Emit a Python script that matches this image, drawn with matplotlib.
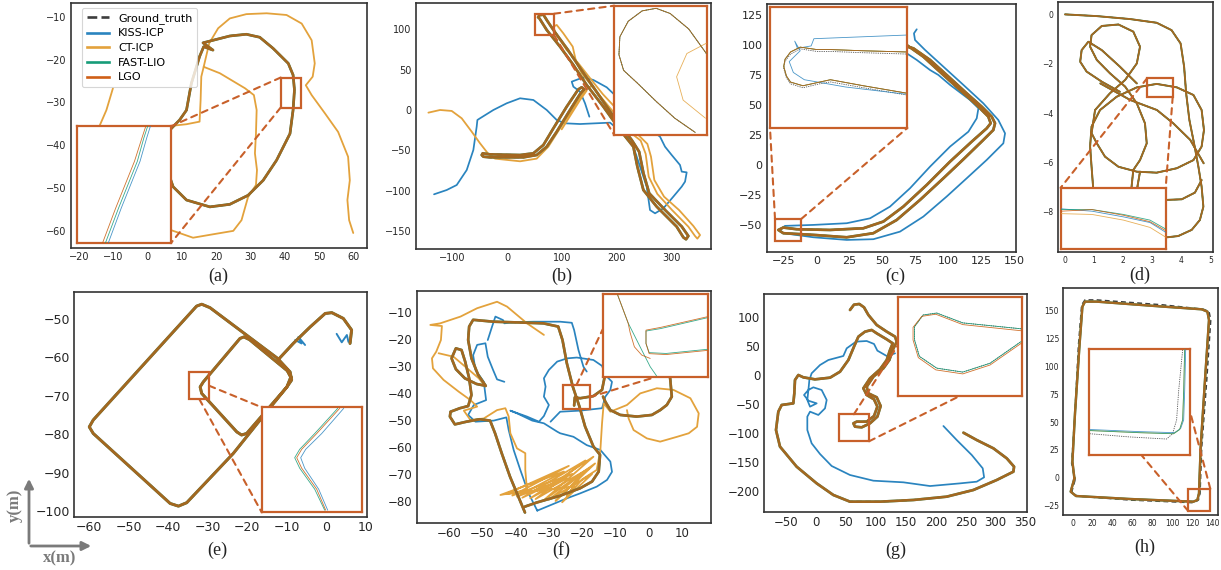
import numpy as np
import matplotlib
matplotlib.use("Agg")
import matplotlib.pyplot as plt
from matplotlib.patches import Rectangle, ConnectionPatch, FancyArrowPatch
from matplotlib.lines import Line2D

nan = np.nan
W, H = 1221, 570
METHODS = ["Ground_truth", "KISS-ICP", "CT-ICP", "FAST-LIO", "LGO"]

# ---------------- (a) ----------------
A_GT_X = [5.4, 7.4, 11.3, 18.1, 23.9, 29.2, 33.6, 37.5, 41.4, 42.3, 42.7, 42.3, 40.9, 36.5, 32.6, 28.7, 23.9, 20.0,
          16.1, 19.0, 16.3, 15.1, 14.2, 12.7, 12.0, 11.3, 9.3, 6.4]
A_GT_Y = [-45.0, -49.7, -52.8, -54.4, -53.8, -51.7, -48.2, -43.5, -37.3, -31.8, -27.1, -23.6, -20.9, -17.4, -14.8,
          -14.1, -14.5, -15.3, -16.1, -17.8, -17.0, -19.3, -21.7, -25.6, -28.7, -31.8, -34.1, -36.5]
A_CT_X = [-10.1, -12.0, -14.0, -11.1, -2.3, 6.7, 13.2, 19.0, 24.9, 27.3, 29.2, 31.5, 31.8, 31.2, 31.5, 31.7, 30.9,
          28.3, 21.0, 16.3, 17.9, 20.5, 23.9, 28.7, 34.6, 40.4, 44.8, 47.7, 48.6, 48.0, 46.0, 47.7, 51.6, 55.4, 58.3,
          58.8, 58.1, 58.6, 59.8, nan, 16.3, 15.6, 15.4, 15.1, 11.3, 6.7]
A_CT_Y = [-26.7, -31.8, -35.5, -43.5, -54.4, -59.8, -61.6, -60.8, -60.0, -57.5, -52.1, -49.3, -45.8, -41.9, -37.3,
          -31.8, -28.3, -26.7, -23.2, -21.7, -16.2, -12.7, -10.4, -9.4, -9.2, -9.6, -11.6, -15.5, -20.9, -24.0, -26.0,
          -28.3, -32.6, -36.9, -42.7, -48.2, -52.8, -57.5, -60.5, nan, -21.7, -24.0, -29.5, -34.5, -35.1, -35.5]
# zoom window (a)
AZ_Y = [-31.2, -29.1, -27.7, -26.3, -24.9, -24.2]
AZ_KISS_X = [40.65, 41.47, 42.06, 42.65, 43.07, 43.30]
AZ_FAST_X = [40.47, 41.30, 41.89, 42.48, 42.89, 43.13]
AZ_LGO_X = [40.29, 41.12, 41.71, 42.30, 42.77, 43.01]

# ---------------- (b) ----------------
B_GT_X = [65.6, 58.3, 55.9, 58.3, 71.7, 96.0, 120.4, 144.7, 175.2, 205.6, 230.0, 237.3, 248.3, 272.6, 309.1, 321.3,
          326.2, 330.4, 318.5, 288.0, 259.0, 248.5, 240.5, 227.0, 194.0, 160.5, 135.0, 110.5, 86.0, 72.5, 65.6, nan,
          139.9, 132.6, 114.3, 90.0, 71.7, 53.4, 29.1, -31.8, -44.0, -47.0, -45.2, -31.8, 23.0, 47.3, 65.6, 83.9,
          108.2, 129.5, 135.6, 139.9]
B_GT_Y = [118.2, 117.4, 114.9, 113.6, 99.2, 78.5, 55.8, 31.0, 4.1, -24.8, -45.5, -70.2, -99.2, -119.8, -144.6,
          -157.9, -160.3, -156.2, -144.6, -124.0, -103.3, -78.5, -51.7, -37.2, -8.3, 24.8, 49.6, 74.4, 97.1, 110.7,
          118.2, nan, 25.6, 19.8, 0.0, -26.9, -45.5, -55.8, -58.7, -58.7, -57.9, -55.8, -53.7, -55.0, -55.8, -53.7,
          -43.4, -22.7, 4.1, 25.6, 28.1, 25.6]
B_KISS_X = [-134.1, -111.0, -92.7, -74.4, -62.3, -56.2, -54.9, -50.1, -25.7, -1.4, 23.0, 47.3, 71.7, 90.0, 105.2,
            132.6, 187.4, 217.8, 230.0, 242.2, 254.3, 260.4, 269.6, 284.8, 303.0, 318.3, 324.4, 327.4, 318.3, 315.2,
            300.0, 287.8, 278.7, 254.3, 205.6, 181.3, 156.9, 138.7, 117.4, 120.4, 132.6, 141.7, 149.6]
B_KISS_Y = [-104.5, -99.2, -93.0, -74.4, -49.6, -20.7, -12.4, -10.3, 0.0, 8.3, 14.5, 12.4, 0.0, -12.4, -16.5, -17.4,
            -15.7, -33.1, -45.5, -70.2, -95.0, -124.0, -128.1, -121.9, -107.4, -95.0, -88.8, -77.3, -76.4, -68.2,
            -55.8, -45.5, -33.1, -20.7, 12.4, 28.1, 37.2, 40.5, 35.1, 28.9, 22.7, 8.3, -8.3]
B_CT_X = [-144.4, -123.1, -101.8, -83.6, -65.3, -50.1, -34.9, -22.7, 23.0, 53.4, 74.7, 96.0, 117.4, 135.6, 147.8,
          155.7, nan, 99.1, 117.4, 132.6, 144.7, nan, 108.2, 96.0, 86.9, 83.9, 90.0, 102.1, 119.2, 125.3, 135.6, 160.0,
          190.4, 222.7, 243.4, 252.5, 258.0, 273.8, 300.6, 330.4, 342.6, 346.9, 351.8, 339.6, 313.4, 286.0, 268.3,
          262.2, 255.6, 237.3, 206.8, 174.0, 149.6, 129.5, 108.2]
B_CT_Y = [-3.3, 0.0, -1.2, -10.3, -26.9, -41.3, -54.5, -60.3, -63.6, -60.3, -45.5, -22.7, 0.0, 18.6, 28.1, 29.8, nan,
          -24.0, -4.1, 12.4, 24.0, nan, 74.4, 86.8, 97.1, 103.3, 105.4, 95.0, 78.5, 59.9, 45.5, 24.8, 0.0, -26.9,
          -38.0, -54.5, -82.6, -104.1, -124.0, -144.6, -156.2, -159.5, -155.0, -143.8, -124.0, -107.4, -86.8, -57.9,
          -42.1, -29.8, -4.1, 19.8, 40.5, 57.9, 74.4]
# zoom window (b)
BZ_X = [84.66, 78.16, 71.32, 66.19, 61.06, 55.93, 52.85, 52.51, 54.22, 59.35, 66.19, 73.03, 80.55]
BZ_Y = [109.57, 114.57, 117.72, 118.77, 118.25, 116.14, 112.99, 109.31, 106.15, 103.52, 99.84, 96.42, 93.53]
BZ_CT_X = [84.66, 77.48, 73.71, 76.11, 84.32]
BZ_CT_Y = [111.67, 109.57, 104.84, 100.10, 96.42]

# ---------------- (c) ----------------
C_GT_X = [55.9, 68.6, 81.2, 96.4, 109.0, 121.7, 130.5, 132.3, 129.3, 117.9, 101.5, 83.8, 66.0, 50.9, 35.7, 10.4,
          -14.9, -25.0, -28.8, -25.0, -2.2, 23.1, 43.3, 61.0, 78.7, 96.4, 111.6, 126.7, 134.3, 135.6, 133.1, 125.5,
          114.1, 98.9, 86.3, 73.6, 68.6, 55.9]
C_GT_Y = [107.0, 100.0, 90.3, 75.1, 62.6, 50.1, 40.4, 34.9, 30.7, 19.6, 3.0, -16.4, -34.5, -46.9, -52.5, -53.9,
          -53.3, -51.9, -53.9, -56.6, -58.0, -60.0, -56.6, -45.6, -28.9, -10.9, 4.9, 21.0, 29.3, 34.9, 40.4, 48.7,
          59.8, 75.1, 87.6, 97.3, 98.7, 104.0]
C_KISS_X = [76.2, 74.1, 74.9, 82.5, 96.4, 111.6, 126.7, 138.1, 143.2, 141.9, 129.3, 114.1, 98.9, 81.2, 63.5, 43.3,
            23.1, -2.2, -25.0, -28.0, -23.7, -2.2, 23.1, 40.8, 55.9, 71.1, 86.3, 101.5, 115.4, 121.7, 123.0, 116.6,
            101.5, 92.6, 86.3, 76.2, 68.6]
C_KISS_Y = [113.1, 109.7, 104.2, 95.9, 82.0, 66.8, 51.5, 37.6, 26.5, 18.2, 4.4, -10.9, -26.1, -42.8, -55.3, -61.6,
            -62.2, -60.0, -56.6, -53.9, -50.5, -49.7, -48.3, -44.2, -34.5, -19.2, -1.2, 15.5, 27.9, 39.0, 47.4, 54.3,
            66.8, 75.1, 79.2, 87.6, 93.1]
# zoom window (c)
CZ_X = [-11.55, -17.73, -22.52, -24.52, -26.91, -28.31, -29.11, -29.31, -28.91, -28.31, -26.51, -24.12, -22.52,
        -17.73, -11.55]
CZ_Y = [-51.58, -51.40, -51.21, -51.21, -50.84, -51.58, -52.70, -53.81, -55.30, -56.23, -56.79, -56.23, -55.86,
        -56.79, -57.91]
CZ_GT_Y = [-51.9, -51.7, -51.5, -51.5, -51.1, -51.9, -53.0, -54.1, -55.6, -56.5, -57.1, -56.5, -56.2, -57.1, -58.2]
CZ_KISS_X = [-11.55, -24.92, -25.32, -27.31, -27.71, -26.91, -28.51, -27.91, -26.31, -24.32, -20.33, -11.55]
CZ_KISS_Y = [-48.98, -49.54, -50.65, -51.02, -49.91, -51.40, -53.07, -54.74, -55.86, -56.23, -56.98, -58.09]

# ---------------- (d) ----------------
D_X = [0.01, 1.10, 2.24, 3.15, 3.66, 3.97, 4.09, 4.16, 4.27, 4.43, 4.58, 4.69, 4.75, 4.63, 4.35, 3.89, 3.52, nan,
       0.98, 0.92, 0.87, 0.92, 1.21, 1.78, 2.47, 3.15, 3.84, 4.41, 4.69, 4.77, 4.69, 4.41, 3.84, 3.15, 2.47, 1.84,
       1.38, 1.10, 0.92, 1.04, 1.55, 2.07, 2.47, 2.58, 2.35, 1.84, 1.27, 0.92, 0.87, 1.10, 1.55, 2.07, 2.47, 2.75,
       2.81, 2.58, 2.35, 2.29, 2.35, nan,
       2.47, 1.89, 1.27, 0.81, 0.58, 0.53, 0.75, 1.27, 1.89, nan,
       2.58, 2.49, 2.75, 3.38, 4.01, 4.46, 4.69, nan,
       1.22, 2.24, 3.16, 3.72, 4.30, 4.76]
D_Y = [0.0, -0.07, -0.19, -0.34, -0.64, -1.18, -2.12, -3.20, -4.28, -5.23, -6.18, -6.99, -7.80, -8.34, -8.74, -8.99,
       -9.04, nan,
       -7.12, -6.18, -5.36, -4.55, -3.88, -3.34, -2.96, -2.82, -2.96, -3.27, -3.88, -4.69, -5.36, -5.91, -6.24,
       -6.42, -6.38, -6.18, -5.77, -5.23, -4.82, -3.88, -3.20, -2.66, -1.99, -1.31, -0.70, -0.41, -0.47, -0.84,
       -1.31, -1.85, -2.39, -2.93, -3.61, -4.42, -5.23, -5.91, -6.31, -6.99, -7.53, nan,
       -2.80, -2.12, -1.45, -1.11, -1.45, -1.92, -2.32, -2.73, -3.14, nan,
       -6.38, -6.99, -7.39, -7.53, -7.50, -7.23, -6.72, nan,
       -2.80, -3.47, -3.88, -4.42, -5.09, -6.04]
# zoom window (d)
DZ_X = [2.83, 3.09, 3.35, 3.57, 3.70]
DZ_LGO_Y = [-2.87, -2.85, -2.92, -3.00, -3.11]
DZ_FAST_Y = [-2.85, -2.85, -2.91, -2.98, -3.09]
DZ_KISS_Y = [-2.84, -2.87, -2.94, -3.01, -3.13]
DZ_CT_Y = [-2.90, -2.91, -2.98, -3.07, -3.19]

# ---------------- (e) ----------------
E_GT_X = [6.1, 6.5, 4.4, 1.5, -0.2, -4.0, -8.3, -12.1, -10.0, -8.9, -9.9, -16.7, -23.5, -35.3, -37.4, -39.5, -59.0,
          -60.0, -59.0, -32.8, -31.5, -29.4, -12.5, -9.1, -8.7, -9.9, -20.1, -21.4, -22.6, -31.5, -31.9, -31.1, -21.8,
          -20.8, -19.4, -9.8, -8.9]
E_GT_Y = [-56.4, -52.9, -49.9, -48.4, -48.6, -52.1, -56.4, -60.6, -62.9, -65.1, -67.7, -76.3, -85.0, -97.8, -98.7,
          -98.0, -79.8, -78.1, -76.3, -46.7, -46.2, -47.1, -60.1, -63.8, -65.9, -67.7, -79.8, -80.2, -79.4, -69.4,
          -67.7, -66.4, -55.1, -54.7, -55.4, -63.5, -65.2]
E_KISS_EXTRA_X = [nan, -7.8, -6.2, -7.0, -5.3, nan, 2.7, 4.0, 5.3, 5.7]
E_KISS_EXTRA_Y = [nan, -55.5, -56.4, -54.7, -56.8, nan, -53.9, -56.1, -54.2, -56.0]
# zoom window (e)
EZ_Y = [-63.97, -65.65, -66.7, -67.26, -67.96, -69.36, -70.76]
EZ_LGO_X = [-30.7, -31.85, -32.6, -32.85, -32.6, -31.85, -31.4]
EZ_KISS_X = [-30.5, -31.6, -32.4, -32.65, -32.45, -31.75, -31.3]
EZ_FAST_X = [-30.8, -31.95, -32.7, -32.95, -32.7, -31.95, -31.45]

# ---------------- (f) ----------------
F_LGO_X = [-37.2, -39.2, -41.7, -44.2, -46.2, -47.7, -50.8, -54.8, -58.3, -59.8, -59.6, -56.8, -54.3, -53.3, -54.0,
           -55.2, -56.3, -58.0, -59.3, -58.0, -55.3, -51.8, -49.0, -51.3, -53.3, -54.3, -54.0, -52.8, -46.7, -38.7,
           -31.7, -27.2, -25.9, -24.6, -22.8, -20.8, -19.1, -16.6, -14.6, -15.0, -17.0, -20.6, -26.7, -33.7, -37.2,
           nan, -22.4, -22.2, -20.6, -16.6, -14.0, -13.0, -6.5, 5.5, 6.5, 7.0, 5.5, 3.5, 1.0, -3.5, -8.5, -11.5,
           -13.0, -13.7]
F_LGO_Y = [-84.3, -78.4, -71.0, -62.3, -54.9, -50.2, -49.7, -50.6, -51.6, -48.7, -46.9, -45.6, -44.8, -40.7, -34.5,
           -28.3, -24.0, -23.4, -27.1, -31.1, -34.5, -36.6, -37.3, -33.2, -27.1, -20.3, -15.3, -12.8, -13.5, -13.8,
           -14.1, -15.3, -20.3, -28.9, -37.6, -45.0, -52.4, -59.8, -62.9, -69.1, -72.8, -75.3, -78.1, -80.6, -82.1,
           nan, -44.6, -41.6, -41.9, -41.1, -38.8, -32.7, -26.5, -29.0, -34.5, -41.3, -44.4, -46.3, -48.1, -48.7,
           -48.1, -46.3, -43.2, -41.3]
F_KISS_X = [-33.5, -36.1, -38.6, -40.6, -42.1, -42.8, -46.6, -52.1, -54.3, -52.6, -48.9, -49.6, -52.1, -52.8, -51.6,
            -49.1, -48.4, -46.8, -45.6, -43.4, nan,
            -48.4, -47.1, -46.1, -43.8, -43.4, -40.6, -34.6, -26.6, -23.1, -22.4, -21.1, -19.6, -18.6, nan,
            -33.5, -24.5, -20.6, -15.6, -12.5, -11.0, -11.5, -14.5, -18.6, -22.6, -26.6, -27.5, -31.5, -35.0, -39.6,
            -41.6, -36.6, -33.0, -31.5, -30.0, -31.5, -31.0, -31.5, -30.0, -27.5, -24.5, -21.6, -16.6, -14.0, -13.0,
            -11.0, -11.5, -13.0, -14.0, -20.6, -26.6, -29.5]
F_KISS_Y = [-83.6, -77.2, -68.5, -61.1, -53.7, -49.0, -50.2, -50.6, -48.1, -44.4, -42.6, -35.8, -31.4, -25.9, -22.1,
            -21.5, -26.5, -31.4, -34.9, -35.8, nan,
            -20.3, -15.3, -11.6, -12.9, -14.1, -13.7, -13.5, -13.5, -13.9, -16.6, -24.0, -30.2, -32.0, nan,
            -83.6, -79.0, -77.2, -74.7, -72.2, -69.2, -65.4, -61.1, -59.3, -56.2, -54.9, -54.3, -51.2, -50.2, -47.5,
            -46.5, -48.7, -50.6, -48.5, -44.4, -41.3, -37.6, -34.5, -31.4, -28.3, -27.1, -26.8, -27.7, -29.9, -33.3,
            -35.8, -38.8, -41.3, -45.6, -46.5, -46.9, -50.6]
F_CT_X = [-31.5, -36.6, -42.6, -45.6, -51.6, -56.6, -62.7, -65.7, -62.2, -62.5, -63.9, -65.2, -64.9, -61.7, -57.1,
          -53.6, -51.6, -55.6, -53.6, -49.6, -45.6, -43.1, -42.1, -41.6, -39.6, -37.1, -37.1, -36.6,
          -44.6, -25.5, -39.6, -24.5, -35.6, -16.6, -31.5, -16.1, -28.0, -20.6, -24.6, -22.6,
          -43.0, -24.0, -41.0, -23.0, -38.0, -19.0, -34.0, -18.0, -30.0, -17.0, -26.0, -20.0,
          -15.6, -14.5, -14.0, -13.5, -11.5, -6.5, -2.5, 2.5, 7.5, 12.6, 15.1, 14.6, 12.1, 8.6, 3.5, -0.5, -4.5,
          -6.0, -6.5, nan, -63.2, -58.7, -54.6, -51.1, -49.1]
F_CT_Y = [-18.4, -14.1, -7.9, -6.1, -8.5, -11.6, -14.1, -14.7, -15.1, -20.3, -24.6, -27.1, -30.8, -35.1, -39.5,
          -42.6, -45.0, -46.5, -50.0, -49.4, -46.3, -45.6, -48.7, -54.9, -60.5, -62.3, -68.5, -76.0,
          -77.8, -69.1, -78.4, -71.6, -79.0, -63.6, -79.7, -66.1, -80.0, -71.0, -78.4, -74.7,
          -77.5, -67.0, -78.0, -70.0, -78.8, -65.0, -79.3, -68.0, -79.5, -70.0, -80.5, -72.0,
          -68.5, -61.1, -51.2, -43.8, -46.9, -44.4, -40.1, -38.2, -38.8, -41.9, -47.5, -52.5, -54.9, -56.2, -58.0,
          -56.8, -53.7, -49.4, -46.3, nan, -25.2, -26.5, -30.8, -34.5, -37.6]
# zoom window (f)
FZ_FAST_X = [-24.58, -23.78, -22.74, -22.1, -21.62, nan, -17.78, -21.3, -22.42, -22.42, -22.18, -20.9, -17.78]
FZ_FAST_Y = [-37.09, -40.15, -43.12, -44.92, -45.91, nan, -39.61, -40.78, -41.05, -42.4, -43.39, -43.48, -43.03]
FZ_LGO_X = [-24.58, -23.78, -23.62, -23.3, -22.74, -22.1, nan, -17.78, -21.3, -22.42, -22.42, -22.18, -20.9, -17.78]
FZ_LGO_Y = [-37.09, -40.15, -41.23, -42.76, -43.66, -44.02, nan, -39.5, -40.65, -40.95, -42.4, -43.5, -43.6,
            -43.15]

# ---------------- (g) ----------------
G_GT_X = [56.8, 63.5, 72.4, 80.2, 87.5, 101.4, 118.1, 132.0, 134.8, 128.1, 122.5, 112.5, 95.8, 84.7, 87.5, 101.4,
          108.0, 102.5, 90.2, 76.3, 65.2, 62.4, 68.0, 84.7, 96.9, 102.5, 96.9, 84.7, 79.1, 90.2, 106.9, 118.1, 123.6,
          128.1, 118.1, 101.4, 93.0, 81.9, 70.8, 63.5, 54.1, 40.2, 23.5, -1.6, -21.1, -29.4, -35.0, -36.1, -37.8,
          -57.2, -62.8, -66.7, -60.0, -32.2, 1.2, 29.0, 56.8, 106.9, 162.6, 218.2, 262.7, 301.7, 329.5, 330.6,
          318.4, 296.1, 268.3, 246.1]
G_GT_Y = [111.5, 120.7, 121.8, 116.1, 102.9, 85.7, 74.2, 65.6, 57.0, 42.6, 25.4, 11.1, -3.3, -20.5, -32.0, -38.8,
          -53.8, -72.1, -83.6, -90.5, -89.3, -83.6, -80.7, -80.7, -71.0, -54.9, -42.3, -34.8, -23.3, -6.1, 9.4, 25.4,
          42.6, 54.1, 61.0, 71.3, 77.1, 74.2, 65.6, 48.4, 25.4, 5.3, -5.0, -7.9, -4.4, -0.4, -9.0, -32.0, -49.2,
          -52.0, -63.5, -95.1, -123.7, -158.2, -186.9, -206.9, -218.4, -218.4, -215.5, -209.8, -198.3, -181.1,
          -166.8, -158.2, -143.8, -126.6, -112.3, -99.7]
G_KISS_X = [212.7, 234.9, 260.0, 278.3, 280.6, 268.3, 240.5, 190.4, 145.9, 95.8, 56.8, 26.2, 6.8, -7.2, -14.4,
            -14.4, -9.9, 4.0, 15.1, 17.9, 9.5, -4.4, -12.7, -19.9, -12.7, 1.2, -9.9, -14.4, -12.0, -11.0, -7.2, 6.8,
            20.7, 45.7, 51.3, 66.9, 84.7, 96.9, 102.5, 118.1, 132.0]
G_KISS_Y = [-88.2, -112.3, -138.1, -161.0, -176.5, -184.0, -186.9, -191.5, -185.1, -182.3, -172.5, -157.0, -136.4,
            -118.0, -95.1, -72.1, -63.5, -69.2, -57.8, -43.4, -26.2, -21.6, -26.2, -34.8, -44.6, -49.2, -54.9, -43.4,
            -20.0, -9.0, 2.5, 16.8, 25.4, 32.3, 45.5, 57.0, 58.1, 53.0, 41.5, 32.3, 36.9]
# zoom window (g)
GZ_FAST_X = [88.1, 64.79, 54.38, 48.92, 45.45, 45.45, 47.43, 54.38, 64.79, 75.7, 88.1]
GZ_FAST_Y = [-82.88, -80.09, -75.44, -76.37, -81.95, -88.0, -95.9, -101.48, -103.34, -99.16, -88.93]
GZ_LGO_X = [88.1, 64.79, 54.0, 48.4, 44.9, 44.9, 47.0, 54.0, 64.79, 75.7, 88.1]
GZ_LGO_Y = [-83.8, -80.9, -76.0, -77.0, -82.2, -88.2, -96.5, -102.3, -104.2, -100.0, -89.8]

# ---------------- (h) ----------------
H_GT_X = [2.3, -1.0, 4.0, 57.3, 120.7, 125.7, 127.3, 129.0, 134.0, 138.0, 136.3, 130.7, 90.7, 24.0, 12.3, 9.0, 5.7,
          2.3, -1.0, 2.3]
H_GT_Y = [-2.2, -12.7, -16.6, -20.2, -22.6, -20.2, -14.2, 27.8, 87.9, 141.9, 149.4, 151.5, 155.4, 159.9, 159.9,
          155.4, 117.9, 57.8, 12.8, -2.2]
H_LGO_X = [1.7, -2.0, 3.3, 57.3, 120.7, 124.7, 126.3, 128.0, 132.3, 136.3, 134.7, 129.0, 90.7, 24.0, 12.3, 9.7, 6.7,
           2.3, -0.3, 1.7]
H_LGO_Y = [-0.7, -12.7, -16.6, -19.3, -21.7, -20.2, -14.2, 27.8, 87.9, 141.9, 149.4, 151.5, 153.9, 158.4, 158.4,
           153.9, 117.9, 57.8, 14.3, -0.7]
# zoom window (h)
HZ_FAST_X = [136.5, 136.28, 136.06, 135.4, 134.08, 126.6, 115.82]
HZ_FAST_Y = [-10.3, -18.14, -23.57, -25.38, -26.18, -25.98, -25.58]
HZ_KISS_X = [136.72, 136.5, 136.28, 135.62, 134.3, 126.6, 115.82]
HZ_KISS_Y = [-10.3, -18.14, -23.57, -25.18, -25.98, -25.78, -25.38]
HZ_GT_X = [136.06, 135.18, 134.74, 133.86, 132.54, 124.4, 115.82]
HZ_GT_Y = [-10.3, -18.14, -23.57, -26.18, -27.18, -26.78, -26.18]

# ---------------- styles ----------------
STYLE = {
    "Ground_truth": dict(color="#3d3d3d", ls=(0, (3, 2)), lw=1.3, alpha=1.0, z=2),
    "KISS-ICP": dict(color="#2a84bf", ls="-", lw=1.25, alpha=1.0, z=3),
    "CT-ICP": dict(color="#e3a23c", ls="-", lw=1.3, alpha=1.0, z=4),
    "FAST-LIO": dict(color="#169c78", ls="-", lw=1.9, alpha=1.0, z=5),
    "LGO": dict(color="#c85a0a", ls="-", lw=1.9, alpha=0.8, z=6),
}
LEGEND_COLORS = {"Ground_truth": "#3d3d3d", "KISS-ICP": "#2a84bf", "CT-ICP": "#e3a23c",
                 "FAST-LIO": "#169c78", "LGO": "#cf5f17"}
BOX = "#c8602a"

plt.rcParams["font.family"] = ["DejaVu Sans"]
fig = plt.figure(figsize=(W / 100, H / 100), dpi=100)


def px_axes(box, z=0):
    l, t, r, b = box
    return fig.add_axes([l / W, 1 - b / H, (r - l) / W, (b - t) / H], zorder=z)


def draw(ax, series, inset=False, scale=1.0):
    for name in METHODS:
        if name not in series:
            continue
        xs, ys = series[name]
        st = STYLE[name]
        lw = (0.6 if inset else st["lw"] * scale)
        ls = st["ls"]
        alpha = st["alpha"]
        if inset:
            alpha = 0.85
            if name == "Ground_truth":
                ls = (0, (1.5, 1.2))
        ax.plot(xs, ys, color=st["color"], ls=ls, lw=lw, alpha=alpha, zorder=st["z"],
                solid_capstyle="round", solid_joinstyle="round")


def same(x, y, names):
    return {n: (x, y) for n in names}


S_A = same(A_GT_X, A_GT_Y, ["Ground_truth", "KISS-ICP", "FAST-LIO", "LGO"])
S_A["CT-ICP"] = (A_CT_X, A_CT_Y)
Z_A = {"KISS-ICP": (AZ_KISS_X, AZ_Y), "FAST-LIO": (AZ_FAST_X, AZ_Y), "LGO": (AZ_LGO_X, AZ_Y)}
S_B = same(B_GT_X, B_GT_Y, ["Ground_truth", "FAST-LIO", "LGO"])
S_B["KISS-ICP"] = (B_KISS_X, B_KISS_Y)
S_B["CT-ICP"] = (B_CT_X, B_CT_Y)
Z_B = same(BZ_X, BZ_Y, ["Ground_truth", "FAST-LIO", "LGO"])
Z_B["CT-ICP"] = (BZ_CT_X, BZ_CT_Y)
S_C = same(C_GT_X, C_GT_Y, ["Ground_truth", "CT-ICP", "FAST-LIO", "LGO"])
S_C["KISS-ICP"] = (C_KISS_X, C_KISS_Y)
Z_C = same(CZ_X, CZ_Y, ["CT-ICP", "FAST-LIO", "LGO"])
Z_C["Ground_truth"] = (CZ_X, CZ_GT_Y)
Z_C["KISS-ICP"] = (CZ_KISS_X, CZ_KISS_Y)
S_D = same(D_X, D_Y, METHODS)
Z_D = {"KISS-ICP": (DZ_X, DZ_KISS_Y), "CT-ICP": (DZ_X, DZ_CT_Y), "FAST-LIO": (DZ_X, DZ_FAST_Y),
       "LGO": (DZ_X, DZ_LGO_Y)}
S_E = same(E_GT_X, E_GT_Y, ["Ground_truth", "CT-ICP", "FAST-LIO", "LGO"])
S_E["KISS-ICP"] = (E_GT_X + E_KISS_EXTRA_X, E_GT_Y + E_KISS_EXTRA_Y)
Z_E = {"KISS-ICP": (EZ_KISS_X, EZ_Y), "FAST-LIO": (EZ_FAST_X, EZ_Y), "LGO": (EZ_LGO_X, EZ_Y)}
S_F = same(F_LGO_X, F_LGO_Y, ["Ground_truth", "FAST-LIO", "LGO"])
S_F["KISS-ICP"] = (F_KISS_X, F_KISS_Y)
S_F["CT-ICP"] = (F_CT_X, F_CT_Y)
Z_F = {"FAST-LIO": (FZ_FAST_X, FZ_FAST_Y), "LGO": (FZ_LGO_X, FZ_LGO_Y)}
S_G = same(G_GT_X, G_GT_Y, ["Ground_truth", "FAST-LIO", "LGO"])
S_G["KISS-ICP"] = (G_KISS_X, G_KISS_Y)
Z_G = {"Ground_truth": (GZ_FAST_X, GZ_FAST_Y), "FAST-LIO": (GZ_FAST_X, GZ_FAST_Y), "LGO": (GZ_LGO_X, GZ_LGO_Y)}
S_H = same(H_LGO_X, H_LGO_Y, ["KISS-ICP", "CT-ICP", "FAST-LIO", "LGO"])
S_H["Ground_truth"] = (H_GT_X, H_GT_Y)
Z_H = {"Ground_truth": (HZ_GT_X, HZ_GT_Y), "KISS-ICP": (HZ_KISS_X, HZ_KISS_Y), "CT-ICP": (HZ_FAST_X, HZ_FAST_Y),
       "FAST-LIO": (HZ_FAST_X, HZ_FAST_Y)}

PANELS = [
    dict(key="a", series=S_A, zoom=Z_A, box=(71, 3, 367, 248), xlim=(-22.3, 63.8), ylim=(-64, -6.8),
         xt=list(range(-20, 61, 10)), yt=list(range(-60, -9, 10)), fs=7,
         rect=(38.7, -31.2, 44.6, -24.2), inset=(77.3, 126.3, 171, 243),
         conn=[((0, 1), (1, 1)), ((0, 0), (1, 0))], label=(218, 276), scale=1.0),
    dict(key="b", series=S_B, zoom=Z_B, box=(415.7, 3, 711, 249), xlim=(-167.6, 371.8), ylim=(-172.3, 132.6),
         xt=[-100, 0, 100, 200, 300], yt=[-150, -100, -50, 0, 50, 100], fs=7,
         rect=(50.8, 93, 85, 119.3), inset=(614.3, 5.7, 707.3, 135),
         conn=[((1, 1), (0, 1)), ((1, 0), (0, 0))], label=(562, 276), scale=1.0),
    dict(key="c", series=S_C, zoom=Z_C, box=(766.7, 4.3, 1016, 251.7), xlim=(-37.6, 151.5), ylim=(-72, 133.9),
         xt=list(range(-25, 151, 25)), yt=list(range(-50, 126, 25)), fs=8,
         rect=(-31.3, -63.3, -11.35, -44.7), inset=(770, 7.3, 907.3, 128),
         conn=[((0, 1), (0, 0)), ((1, 1), (1, 0))], label=(895, 276), scale=1.0),
    dict(key="d", series=S_D, zoom=Z_D, box=(1057.7, 2.3, 1213.3, 252.3), xlim=(-0.24, 5.09), ylim=(-9.65, 0.49),
         xt=[0, 1, 2, 3, 4, 5], yt=[-8, -6, -4, -2, 0], fs=5.5,
         rect=(2.83, -3.34, 3.70, -2.58), inset=(1060.7, 187.7, 1165.7, 249.3),
         conn=[((0, 1), (0, 1)), ((1, 0), (1, 1))], label=(1140, 275), scale=0.7),
    dict(key="e", series=S_E, zoom=Z_E, box=(74.3, 292.3, 367, 517.3), xlim=(-63.8, 10.4), ylim=(-101.6, -43.1),
         xt=list(range(-60, 11, 10)), yt=list(range(-100, -49, 10)), fs=9,
         rect=(-34.6, -70.9, -29.6, -63.9), inset=(261.7, 407.3, 361.7, 512.3),
         conn=[((1, 0.5), (0, 1)), ((0.5, 0), (0, 0))], label=(217, 550), scale=1.1),
    dict(key="f", series=S_F, zoom=Z_F, box=(417, 290.7, 711, 523.3), xlim=(-69.7, 18.8), ylim=(-88.3, -2),
         xt=list(range(-60, 11, 10)), yt=list(range(-80, -9, 10)), fs=8.5,
         rect=(-25.7, -46, -17.7, -37), inset=(602.7, 293.7, 708.3, 376.7),
         conn=[((0.5, 1), (0, 0.57)), ((1, 0.5), (0.51, 0))], label=(561, 550), scale=1.0),
    dict(key="g", series=S_G, zoom=Z_G, box=(764.3, 294, 1026.7, 512.3), xlim=(-86.2, 351.7), ylim=(-236.7, 139),
         xt=list(range(-50, 351, 50)), yt=list(range(-200, 101, 50)), fs=8.5,
         rect=(39, -114.5, 88.6, -68), inset=(898.3, 297.3, 1022.3, 395.7),
         conn=[((0.49, 1), (0, 0.52)), ((1, 0), (0.5, 0))], label=(896, 550), scale=1.0),
    dict(key="h", series=S_H, zoom=Z_H, box=(1063.3, 288.3, 1218.3, 515), xlim=(-9.4, 145.6), ylim=(-33.7, 170.4),
         xt=list(range(0, 141, 20)), yt=list(range(-25, 151, 25)), fs=5.5,
         rect=(115.6, -30.2, 137.6, -10.1), inset=(1089, 348.7, 1189.7, 455),
         conn=[((0, 0), (0.52, 0)), ((1, 1), (1, 0.42))], label=(1145, 547), scale=0.9),
]

axes = {}
for p in PANELS:
    ax = px_axes(p["box"])
    axes[p["key"]] = ax
    draw(ax, p["series"], scale=p["scale"])
    ax.set_xlim(*p["xlim"])
    ax.set_ylim(*p["ylim"])
    ax.set_xticks(p["xt"])
    ax.set_yticks(p["yt"])
    ax.tick_params(length=0, labelsize=p["fs"], labelcolor="#262626", pad=3)
    for s in ax.spines.values():
        s.set_color("#333333")
        s.set_linewidth(1.2)
    x0, y0, x1, y1 = p["rect"]
    ax.add_patch(Rectangle((x0, y0), x1 - x0, y1 - y0, fill=False, ec=BOX, lw=1.6, zorder=20))
    ins = px_axes(p["inset"], z=2)
    draw(ins, p["zoom"], inset=True)
    ins.set_xlim(x0, x1)
    ins.set_ylim(y0, y1)
    ins.set_xticks([])
    ins.set_yticks([])
    ins.set_facecolor("white")
    for s in ins.spines.values():
        s.set_color(BOX)
        s.set_linewidth(1.6)
    for (ru, rv), (iu, iv) in p["conn"]:
        cp = ConnectionPatch(xyA=(x0 + ru * (x1 - x0), y0 + rv * (y1 - y0)), coordsA=ax.transData,
                             xyB=(iu, iv), coordsB=ins.transAxes, color=BOX, lw=1.5,
                             ls=(0, (3, 2.5)), zorder=1)
        fig.add_artist(cp)
    fig.text(p["label"][0] / W, 1 - p["label"][1] / H, "(%s)" % p["key"], ha="center", va="center",
             fontsize=13, family="Liberation Serif", color="#222222")

# legend in (a)
handles = [Line2D([], [], color=LEGEND_COLORS[n], ls=("--" if n == "Ground_truth" else "-"), lw=1.9)
           for n in METHODS]
leg = axes["a"].legend(handles, METHODS, loc="upper left", bbox_to_anchor=(0.037, 0.98), borderaxespad=0,
                       fontsize=8, frameon=True, fancybox=True, handlelength=2.0, labelspacing=0.42,
                       borderpad=0.45, handletextpad=0.8)
leg.get_frame().set_edgecolor("#cccccc")
leg.get_frame().set_linewidth(0.8)
leg.set_zorder(30)

# coordinate arrows (bottom-left)
GRAY = "#7a7a7a"
fig.add_artist(FancyArrowPatch((29 / W, 1 - 546 / H), (29 / W, 1 - 476 / H), transform=fig.transFigure,
                               arrowstyle="-|>", mutation_scale=13, color=GRAY, lw=2))
fig.add_artist(FancyArrowPatch((28 / W, 1 - 546 / H), (94 / W, 1 - 546 / H), transform=fig.transFigure,
                               arrowstyle="-|>", mutation_scale=13, color=GRAY, lw=2))
fig.text(15 / W, 1 - 505 / H, "y(m)", rotation=90, ha="center", va="center", fontsize=12,
         family="Liberation Serif", fontweight="bold", color=GRAY)
fig.text(60 / W, 1 - 558 / H, "x(m)", ha="center", va="center", fontsize=12,
         family="Liberation Serif", fontweight="bold", color=GRAY)

fig.savefig("out.png", dpi=100)
